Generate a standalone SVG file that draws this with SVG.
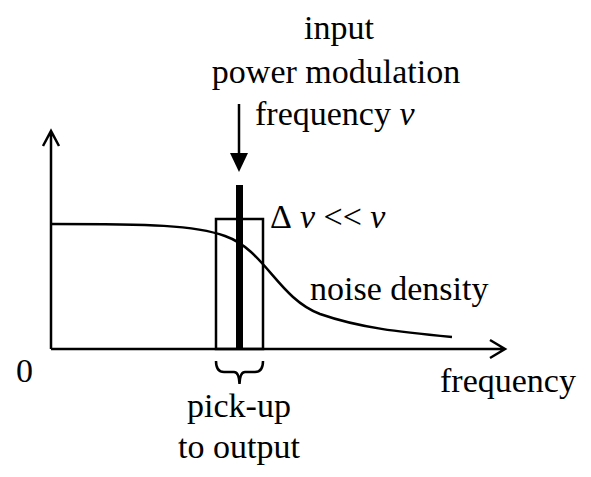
<svg xmlns="http://www.w3.org/2000/svg" width="591" height="477" viewBox="0 0 591 477">
<rect width="591" height="477" fill="#fff"/>
<g id="axes" fill="none" stroke="#000" stroke-width="2.5">
<path d="M51,349 V131 M43,146 L51,131 L59,146"/>
<path d="M51,349 H505 M490,340 L505,349 L490,358"/>
</g>
<g id="noise-curve" fill="none" stroke="#000" stroke-width="2.5">
<path d="M51,224 C150,224 195,225 225,236 C265,250 278,298 320,314 C360,328 400,332 452,337"/>
</g>
<g id="pickup-band">
<rect x="216" y="219" width="47" height="130" fill="none" stroke="#000" stroke-width="2.5"/>
<rect x="236" y="185" width="7" height="164" fill="#000"/>
</g>
<g id="connectors">
<line x1="239" y1="104" x2="239" y2="155" stroke="#000" stroke-width="2.5"/>
<polygon points="230,153 248,153 239,172" fill="#000"/>
<path d="M216,361 Q216,372 224,372 H234 Q239,372 239.5,384 Q240,372 245,372 H255 Q263,372 263,361" fill="none" stroke="#000" stroke-width="2.5"/>
</g>
<text x="339" y="39" font-family="Tinos" font-size="34" text-anchor="middle">input</text>
<text x="336" y="83" font-family="Tinos" font-size="34" text-anchor="middle">power modulation</text>
<text x="255" y="125" font-family="Tinos" font-size="34">frequency <tspan font-style="italic">&#957;</tspan></text>
<text x="270" y="228" font-family="Tinos" font-size="34">&#916;<tspan font-style="italic" dx="8">&#957;</tspan> &lt;&lt; <tspan font-style="italic">&#957;</tspan></text>
<text x="310" y="300" font-family="Tinos" font-size="34">noise density</text>
<text x="16" y="382" font-family="Tinos" font-size="34">0</text>
<text x="440" y="392" font-family="Tinos" font-size="34">frequency</text>
<text x="239" y="417" font-family="Tinos" font-size="34" text-anchor="middle">pick-up</text>
<text x="239" y="458" font-family="Tinos" font-size="34" text-anchor="middle">to output</text>
</svg>
